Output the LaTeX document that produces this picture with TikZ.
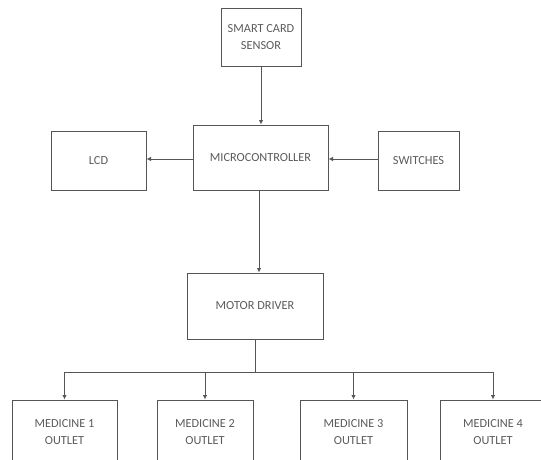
\documentclass[tikz,border=0pt]{standalone}
\usepackage{fontspec}
\setmainfont{Carlito}
\usetikzlibrary{arrows.meta}
\definecolor{linec}{HTML}{555555}
\definecolor{textc}{HTML}{5A5A5A}
\tikzset{
  blk/.style={draw=linec, line width=1pt, rectangle, inner sep=0pt, align=center,
    text=textc, font=\fontsize{12.3pt}{17pt}\selectfont},
  arr/.style={draw=linec, line width=0.8pt, -{Latex[length=4.5pt,width=4.5pt]}},
  ln/.style={draw=linec, line width=0.8pt}
}
\begin{document}
\begin{tikzpicture}[x=1pt,y=-1pt]
\useasboundingbox (0,0) rectangle (541,459);
\node[blk, minimum width=80pt, minimum height=58pt] (sensor) at (261,37.5) {SMART CARD\\SENSOR};
\node[blk, minimum width=135pt, minimum height=65pt] (micro) at (260.5,157.5) {MICROCONTROLLER};
\node[blk, minimum width=95pt, minimum height=59pt] (lcd) at (98.5,160.5) {LCD};
\node[blk, minimum width=81pt, minimum height=59pt] (sw) at (418.5,160.5) {SWITCHES};
\node[blk, minimum width=136pt, minimum height=66pt] (motor) at (255,306) {MOTOR DRIVER};
\node[blk, minimum width=105pt, minimum height=64pt] (o1) at (64.5,432) {MEDICINE 1\\OUTLET};
\node[blk, minimum width=96pt, minimum height=64pt] (o2) at (205,432) {MEDICINE 2\\OUTLET};
\node[blk, minimum width=107pt, minimum height=64pt] (o3) at (353.5,432) {MEDICINE 3\\OUTLET};
\node[blk, minimum width=106pt, minimum height=64pt] (o4) at (493,432) {MEDICINE 4\\OUTLET};
\coordinate (bus) at (255,372);
\draw[arr] (sensor.south) -- (sensor.south |- micro.north);
\draw[arr] (micro.west |- 0,159) -- (lcd.east |- 0,159);
\draw[arr] (sw.west |- 0,159) -- (micro.east |- 0,159);
\draw[arr] (micro.south -| 259,0) -- (motor.north -| 259,0);
\draw[ln] (motor.south) -- (bus);
\draw[arr] (bus) -| (o1.north);
\draw[arr] (bus) -| (o2.north);
\draw[arr] (bus) -| (o3.north);
\draw[arr] (bus) -| (o4.north);
\end{tikzpicture}
\end{document}
